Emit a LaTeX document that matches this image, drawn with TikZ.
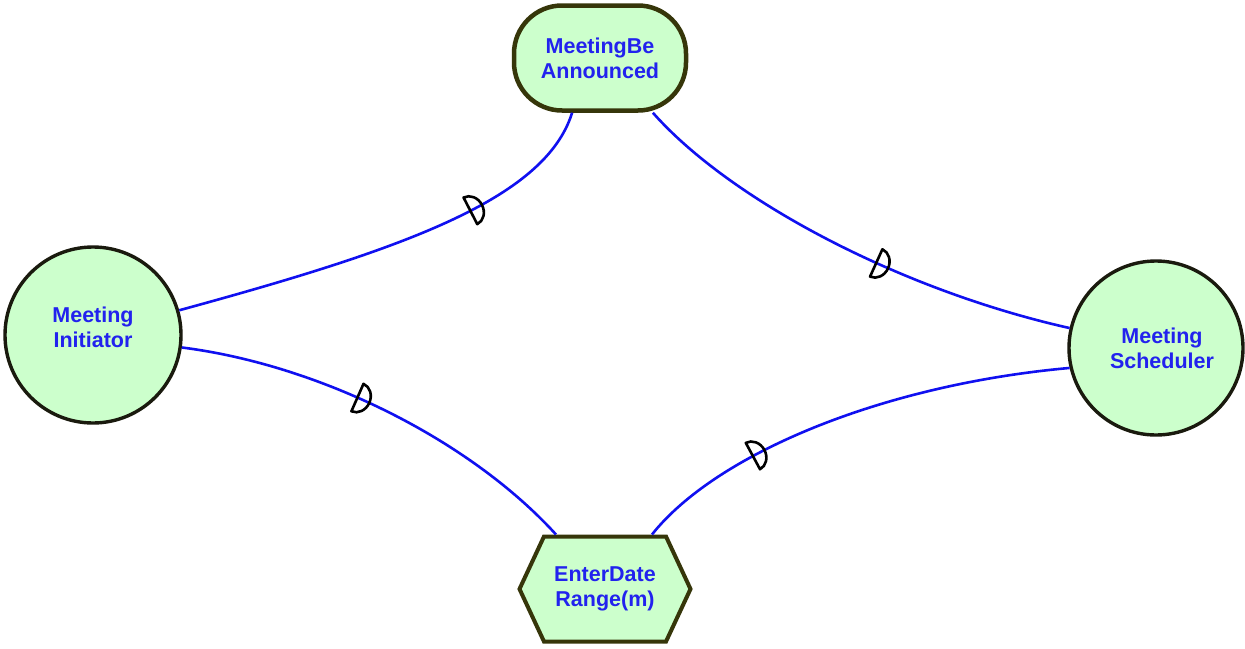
\documentclass[tikz,border=0pt]{standalone}
\usepackage{fontspec}
\setmainfont{Liberation Sans}
\usetikzlibrary{shapes.symbols,decorations.markings,calc}
\definecolor{actorfill}{HTML}{CCFFCC}
\definecolor{edgeline}{HTML}{1A1A0E}
\definecolor{oliveline}{HTML}{36360A}
\definecolor{labelblue}{HTML}{2222EE}
\definecolor{linkblue}{HTML}{1010F0}
\tikzset{
  lbl/.style={text=labelblue, font=\bfseries\fontsize{21.5}{25}\selectfont, align=center},
  actor/.style={lbl, circle, draw=edgeline, line width=3.4pt, fill=actorfill, minimum size=#1, inner sep=0pt},
  actor/.default=174pt,
  softgoal/.style={lbl, rectangle, rounded corners=48pt, draw=oliveline, line width=4.5pt, fill=actorfill, minimum width=172pt, minimum height=105pt, inner sep=0pt},
  task/.style={lbl, signal, signal to=west and east, signal pointer angle=130, draw=oliveline, line width=4pt, fill=actorfill, minimum width=171pt, minimum height=105pt, inner sep=0pt},
  dep/.style={draw=linkblue, line width=2.6pt},
  dmark/.style={postaction={decorate, decoration={markings,
    mark=at position #1 with {\draw[black, line width=2.6pt, line join=round] (0,-15) arc[start angle=-90, end angle=90, x radius=13, y radius=15] -- cycle;}}}}
}
\begin{document}
\begin{tikzpicture}[x=1pt, y=-1pt]
\useasboundingbox[fill=white] (0,0) rectangle (1245,648);

% actors and intentional elements
\node[actor=176pt, text depth=16pt] (init) at (93,335) {Meeting\\Initiator};
\node[actor] (sched) at (1156,348) {\hspace*{12pt}Meeting\\\hspace*{12pt}Scheduler};
\node[softgoal] (ann) at (600,58) {MeetingBe\\Announced};
\node[task] (date) at (605,589) {EnterDate\\Range(m)};

% link end points on the task's top edge
\coordinate (dateL) at ($(date.north)+(-49,0)$);
\coordinate (dateR) at ($(date.north)+(47,0)$);

% control points of the dependency links
\coordinate (c1a) at (400,250);
\coordinate (c1b) at (545,200);
\coordinate (c2a) at (730,200);
\coordinate (c2b) at (900,290);
\coordinate (c3a) at (320,365);
\coordinate (c3b) at (470,440);
\coordinate (c4a) at (715,455);
\coordinate (c4b) at (880,385);

\draw[dep, dmark=0.68] (init.16) .. controls (c1a) and (c1b) .. (ann.-117);
\draw[dep, dmark=0.57] (ann.-46) .. controls (c2a) and (c2b) .. (sched.167);
\draw[dep, dmark=0.43] (init.-8) .. controls (c3a) and (c3b) .. (dateL);
\draw[dep, dmark=0.28] (dateR) .. controls (c4a) and (c4b) .. (sched.193);
\end{tikzpicture}
\end{document}
